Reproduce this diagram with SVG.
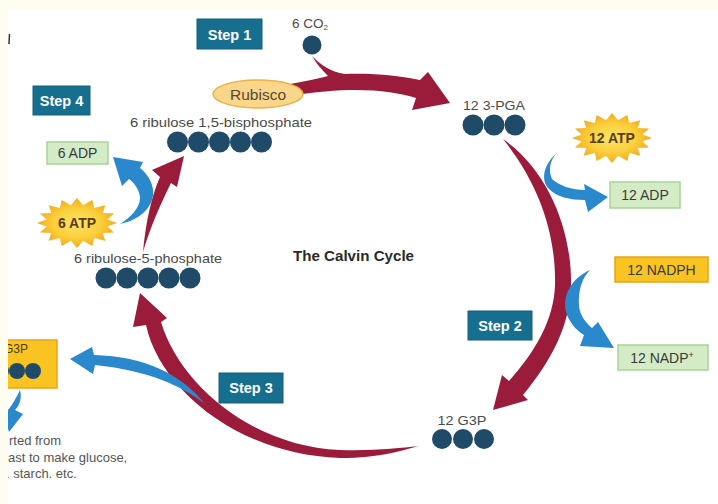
<svg xmlns="http://www.w3.org/2000/svg" width="718" height="504" viewBox="0 0 718 504">
<style>
.step{fill:#176f8f;stroke:#145f7b;stroke-width:1}
.stept{font-family:"Liberation Sans",Arial,sans-serif;font-weight:bold;font-size:14.5px;fill:#ffffff}
.lbl{font-family:"Liberation Sans",Arial,sans-serif;font-size:13.5px;fill:#4a4a4a}
.box{font-family:"Liberation Sans",Arial,sans-serif;font-size:14px;fill:#3a3a3a}
.green{fill:#d4ecc6;stroke:#a6d496;stroke-width:1.5}
.gold{fill:#f9c322;stroke:#e7a519;stroke-width:1.5}
.dot{fill:#1f4b68}
.red{fill:#9b1b3b}
.blue{fill:#2a88cc}
.star{font-family:"Liberation Sans",Arial,sans-serif;font-size:14px;font-weight:bold;fill:#5a3c12}
</style>
<defs>
<radialGradient id="sg" cx="50%" cy="50%" r="50%">
<stop offset="0" stop-color="#fde46a"/>
<stop offset="0.6" stop-color="#fbcf3a"/>
<stop offset="1" stop-color="#f4a91c"/>
</radialGradient>
<polygon id="burst" fill="url(#sg)" points="40,0 30.4,3.5 36.96,9.57 25.78,10 28.28,17.68 17.22,14.97 15.31,23.1 6.05,17.65 0,25 -6.05,17.65 -15.31,23.1 -17.22,14.97 -28.28,17.68 -25.78,10 -36.96,9.57 -30.4,3.5 -40,0 -30.4,-3.5 -36.96,-9.57 -25.78,-10 -28.28,-17.68 -17.22,-14.97 -15.31,-23.1 -6.05,-17.65 0,-25 6.05,-17.65 15.31,-23.1 17.22,-14.97 28.28,-17.68 25.78,-10 36.96,-9.57 30.4,-3.5"/>
</defs>
<rect x="0" y="0" width="718" height="504" fill="#ffffff"/>

<g id="connectors">
<path class="red" d="M 290,84 C 305,81 318,79 328,76 C 322,70 316,63 312,56 C 320,64 330,72 345,74 C 375,73 400,76 420,80 L 428,72 L 450,103 L 412,110 L 416,98 C 390,90 350,86 290,96 Z"/>
<path class="red" d="M 503,139 C 548,170 572,230 571,285 C 570,325 552,360 523,395 L 528,400 L 493,410 L 502,375 L 509,381 C 535,352 554,320 555,285 C 556,235 540,185 503,139 Z"/>
<path class="red" d="M 146,325 C 160,390 240,455 340,458 C 380,458 405,450 418,446 C 400,448 375,451 340,450 C 252,446 180,385 161,322 L 167,318 L 140,293 L 133,327 Z"/>
<path class="red" d="M 143,252 C 146,220 152,195 160,177 L 152,170 L 184,156 L 177,187 L 171,183 C 160,205 150,228 143,252 Z"/>
<path class="blue" d="M 120,224 C 140,220 158,205 152,185 C 150,178 145,172 140,168 L 143,162 L 113,157 L 122,186 L 129,179 C 136,184 140,192 140,198 C 140,208 130,218 120,224 Z"/>
<path class="blue" d="M 557,153 C 545,163 540,178 548,188 C 556,197 570,200 585,200 L 588,212 L 608,197 L 584,184 L 585,190 C 572,190 560,186 552,179 C 548,170 550,160 557,153 Z"/>
<path class="blue" d="M 590,270 C 572,278 562,295 566,312 C 569,322 576,330 584,335 L 580,346 L 614,348 L 598,322 L 592,328 C 585,322 580,315 579,306 C 578,290 582,278 590,270 Z"/>
<path class="blue" d="M 205,404 C 180,385 150,371 95,365 L 93,374 L 70,359 L 92,347 L 94,355 C 145,356 182,375 205,404 Z"/>
<path class="blue" d="M 20,390 C 22,398 20,405 15,410 L 23,414 L 9,432 L 2,408 L 8,410 C 13,404 16,398 20,390 Z"/>
</g>

<g id="step1"><rect class="step" x="197" y="19" width="65" height="30"/><text class="stept" x="229.5" y="39.5" text-anchor="middle">Step 1</text></g>
<g id="step2"><rect class="step" x="468" y="311" width="64" height="29"/><text class="stept" x="500" y="331" text-anchor="middle">Step 2</text></g>
<g id="step3"><rect class="step" x="219" y="373" width="64" height="30"/><text class="stept" x="251" y="393" text-anchor="middle">Step 3</text></g>
<g id="step4"><rect class="step" x="33" y="86" width="57" height="29"/><text class="stept" x="61.5" y="106" text-anchor="middle">Step 4</text></g>

<g id="co2"><text class="lbl" x="310" y="28" text-anchor="middle" font-size="13">6 CO<tspan font-size="8" dy="2">2</tspan></text><circle class="dot" cx="312" cy="45" r="9.5"/></g>

<g id="rubisco"><ellipse cx="258" cy="94" rx="45" ry="14" fill="#f9d68a" stroke="#eab04a" stroke-width="1.5"/><text x="258" y="99.5" text-anchor="middle" font-family="Liberation Sans, Arial, sans-serif" font-size="15.5" fill="#5a4630">Rubisco</text></g>

<g id="rubp"><text class="lbl" x="130" y="127" font-size="14" textLength="182" lengthAdjust="spacingAndGlyphs">6 ribulose 1,5-bisphosphate</text>
<circle class="dot" cx="177.5" cy="142" r="10.5"/><circle class="dot" cx="198.5" cy="142" r="10.5"/><circle class="dot" cx="219.5" cy="142" r="10.5"/><circle class="dot" cx="240.5" cy="142" r="10.5"/><circle class="dot" cx="261.5" cy="142" r="10.5"/></g>

<g id="pga"><text class="lbl" x="463" y="110" font-size="13.5" textLength="62" lengthAdjust="spacingAndGlyphs">12 3-PGA</text>
<circle class="dot" cx="473" cy="125" r="10.5"/><circle class="dot" cx="494" cy="125" r="10.5"/><circle class="dot" cx="515" cy="125" r="10.5"/></g>

<g id="atp12"><use href="#burst" transform="translate(612,138)"/><text class="star" x="612" y="143" text-anchor="middle">12 ATP</text></g>
<g id="adp12"><rect class="green" x="610" y="182" width="70" height="26"/><text class="box" x="645" y="200" text-anchor="middle">12 ADP</text></g>
<g id="nadph"><rect class="gold" x="615" y="257" width="93" height="25"/><text class="box" x="661.5" y="274.5" text-anchor="middle">12 NADPH</text></g>
<g id="nadp"><rect class="green" x="618" y="345" width="90" height="25"/><text class="box" x="662" y="362.5" text-anchor="middle">12 NADP<tspan font-size="9" dy="-5">+</tspan></text></g>

<g id="g3p12"><text class="lbl" x="462" y="425" text-anchor="middle" font-size="13.5" textLength="49" lengthAdjust="spacingAndGlyphs">12 G3P</text>
<circle class="dot" cx="442" cy="439" r="10"/><circle class="dot" cx="463" cy="439" r="10"/><circle class="dot" cx="484" cy="439" r="10"/></g>

<g id="ru5p"><text class="lbl" x="74" y="263" font-size="14" textLength="148" lengthAdjust="spacingAndGlyphs">6 ribulose-5-phosphate</text>
<circle class="dot" cx="106" cy="278" r="10.5"/><circle class="dot" cx="127" cy="278" r="10.5"/><circle class="dot" cx="148" cy="278" r="10.5"/><circle class="dot" cx="169" cy="278" r="10.5"/><circle class="dot" cx="190" cy="278" r="10.5"/></g>

<g id="atp6"><use href="#burst" transform="translate(77,223)"/><text class="star" x="77" y="228" text-anchor="middle">6 ATP</text></g>
<g id="adp6"><rect class="green" x="47" y="142" width="61" height="22"/><text class="box" x="77.5" y="158" text-anchor="middle">6 ADP</text></g>

<g id="title"><text x="293" y="261" font-family="Liberation Sans, Arial, sans-serif" font-weight="bold" font-size="14" fill="#2a2a2a" textLength="121" lengthAdjust="spacingAndGlyphs">The Calvin Cycle</text></g>

<g id="g3pout"><rect class="gold" x="0" y="340" width="57" height="48"/><text x="4" y="353" font-family="Liberation Sans, Arial, sans-serif" font-size="12" fill="#4a3a10">G3P</text>
<circle class="dot" cx="1" cy="371" r="8"/><circle class="dot" cx="17" cy="371" r="8"/><circle class="dot" cx="33" cy="371" r="8"/></g>

<g id="note" font-family="Liberation Sans, Arial, sans-serif" font-size="13" fill="#555555">
<text x="9" y="445">rted from</text>
<text x="8" y="462">ast to make glucose,</text>
<text x="6" y="478">. starch. etc.</text>
</g>

<rect x="0" y="0" width="718" height="9" fill="#fffcf0"/>
<rect x="0" y="0" width="8" height="504" fill="#fffcf0"/>
<line x1="9.5" y1="34" x2="9" y2="44" stroke="#333" stroke-width="1.5"/>
</svg>
